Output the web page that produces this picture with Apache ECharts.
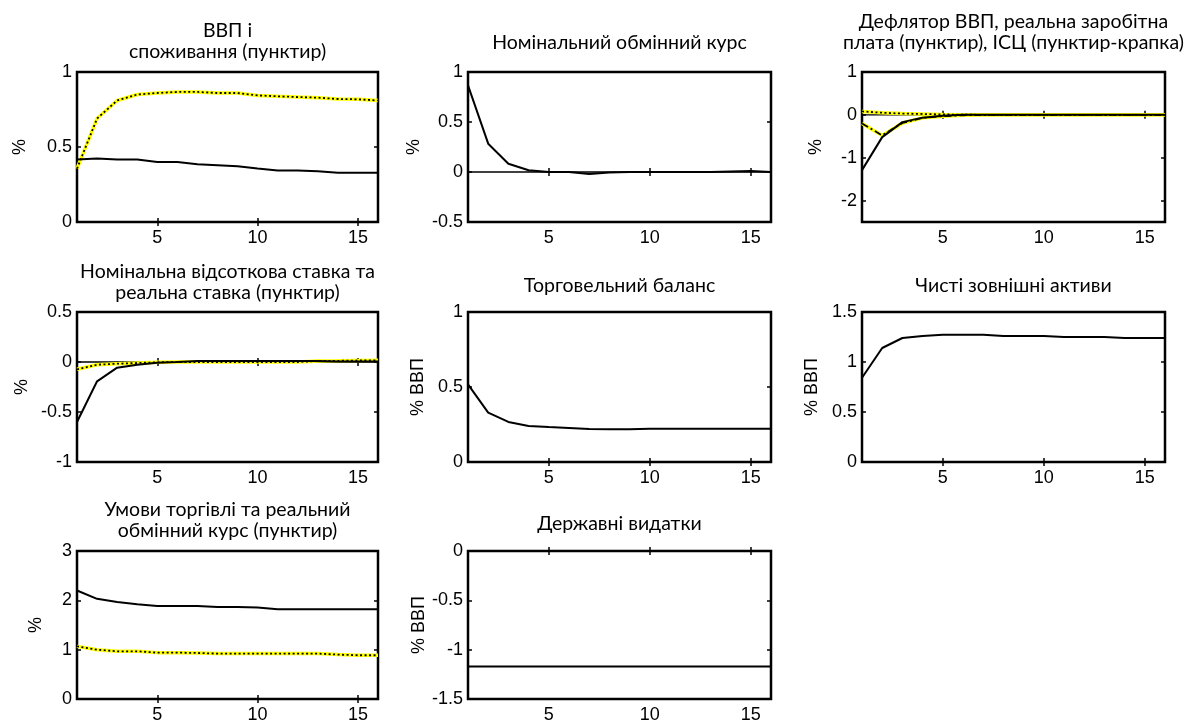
<!DOCTYPE html>
<html>
<head>
<meta charset="utf-8">
<script src="https://cdn.jsdelivr.net/npm/echarts@6/dist/echarts.min.js"></script>
<style>
html, body { margin: 0; padding: 0; background: #fff; }
#chart { width: 1200px; height: 724px; }
</style>
</head>
<body>
<div id="chart"></div>
<script>
// periods after the shock
var periods = [1, 2, 3, 4, 5, 6, 7, 8, 9, 10, 11, 12, 13, 14, 15, 16];
var xTicks = [5, 10, 15];

// ВВП і споживання
var gdp         = [0.416, 0.424, 0.416, 0.416, 0.40, 0.40, 0.385, 0.378, 0.371, 0.356, 0.344, 0.344, 0.338, 0.329, 0.329, 0.329];
var consumption = [0.356, 0.69, 0.81, 0.85, 0.86, 0.867, 0.867, 0.86, 0.86, 0.844, 0.838, 0.833, 0.829, 0.82, 0.818, 0.81];

// Номінальний обмінний курс
var nomExchange = [0.867, 0.283, 0.083, 0.017, 0.0, 0.0, -0.02, -0.005, 0.0, 0.0, 0.0, 0.0, 0.0, 0.005, 0.01, 0.0];

// Дефлятор ВВП, реальна заробітна плата, ІСЦ
var deflator = [-1.29, -0.52, -0.17, -0.065, -0.02, 0.0, 0.0, 0.0, 0.0, 0.0, 0.0, 0.0, 0.0, 0.0, 0.0, 0.0];
var realWage = [0.08, 0.05, 0.03, 0.02, 0.01, 0.005, 0.0, 0.0, 0.0, 0.0, 0.0, 0.0, 0.0, 0.0, 0.0, 0.0];
var cpi      = [-0.2, -0.48, -0.19, -0.07, -0.03, -0.01, 0.0, 0.0, 0.0, 0.0, 0.0, 0.0, 0.0, 0.0, 0.0, 0.0];

// Номінальна та реальна ставка
var nomRate  = [-0.6, -0.193, -0.057, -0.027, -0.007, 0.0, 0.01, 0.01, 0.01, 0.01, 0.01, 0.01, 0.01, 0.005, 0.005, 0.005];
var realRate = [-0.073, -0.027, -0.017, -0.01, -0.003, 0.0, 0.0, 0.0, 0.0, 0.0, 0.0, 0.0, 0.01, 0.012, 0.015, 0.017];

// Торговельний баланс
var tradeBalance = [0.518, 0.329, 0.267, 0.24, 0.233, 0.227, 0.22, 0.218, 0.218, 0.222, 0.222, 0.222, 0.222, 0.222, 0.222, 0.222];

// Чисті зовнішні активи
var netAssets = [0.843, 1.14, 1.24, 1.26, 1.273, 1.273, 1.273, 1.26, 1.26, 1.26, 1.25, 1.25, 1.25, 1.24, 1.24, 1.24];

// Умови торгівлі та реальний обмінний курс
var termsOfTrade = [2.2, 2.03, 1.967, 1.92, 1.887, 1.887, 1.887, 1.867, 1.867, 1.853, 1.82, 1.82, 1.82, 1.82, 1.82, 1.82];
var realExchange = [1.067, 1.0, 0.967, 0.967, 0.94, 0.94, 0.933, 0.92, 0.92, 0.92, 0.92, 0.92, 0.92, 0.9, 0.887, 0.887];

// Державні видатки
var govSpending = [-1.17, -1.17, -1.17, -1.17, -1.17, -1.17, -1.17, -1.17, -1.17, -1.17, -1.17, -1.17, -1.17, -1.17, -1.17, -1.17];

var zeros = [0, 0, 0, 0, 0, 0, 0, 0, 0, 0, 0, 0, 0, 0, 0, 0];

var colLeft = [77, 468, 862];
var colWidth = [301, 303, 303];
var rowTop = [72, 312, 551];
var plotH = 150;

var panels = [
  { title: 'ВВП і\nспоживання (пунктир)', ty: 41, col: 0, row: 0, name: '%', gap: 48,
    min: 0, max: 1, interval: 0.5, lines: [[gdp, 'solid'], [consumption, 'dotted']] },
  { title: 'Номінальний обмінний курс', ty: 43, col: 1, row: 0, name: '%', gap: 45,
    min: -0.5, max: 1, interval: 0.5, lines: [[zeros, 'zero'], [nomExchange, 'solid']] },
  { title: 'Дефлятор ВВП, реальна заробітна\nплата (пунктир), ІСЦ (пунктир-крапка)', ty: 32, col: 2, row: 0, name: '%', gap: 37,
    min: -2.5, max: 1, ticks: [-2, -1, 0, 1], lines: [[zeros, 'zero'], [deflator, 'solid'], [realWage, 'dotted'], [cpi, 'dashdot']] },
  { title: 'Номінальна відсоткова ставка та\nреальна ставка (пунктир)', ty: 282, col: 0, row: 1, name: '%', gap: 46,
    min: -1, max: 0.5, interval: 0.5, lines: [[zeros, 'zero'], [nomRate, 'solid'], [realRate, 'dotted']] },
  { title: 'Торговельний баланс', ty: 286, col: 1, row: 1, name: '% ВВП', gap: 41,
    min: 0, max: 1, interval: 0.5, lines: [[tradeBalance, 'solid']] },
  { title: 'Чисті зовнішні активи', ty: 286, col: 2, row: 1, name: '% ВВП', gap: 41,
    min: 0, max: 1.5, interval: 0.5, lines: [[netAssets, 'solid']] },
  { title: 'Умови торгівлі та реальний\nобмінний курс (пунктир)', ty: 520, col: 0, row: 2, name: '%', gap: 32,
    min: 0, max: 3, interval: 1, lines: [[termsOfTrade, 'solid'], [realExchange, 'dotted']] },
  { title: 'Державні видатки', ty: 524, col: 1, row: 2, name: '% ВВП', gap: 40,
    min: -1.5, max: 0, interval: 0.5, lines: [[govSpending, 'solid']] }
];

var labelFont = "'Liberation Sans', Arial, sans-serif";
var titleFont = "Lato, 'Open Sans', sans-serif";
var labelSize = 18;
var tickStyle = { inside: true, length: 4, lineStyle: { color: '#000', width: 1.5 } };

function pairs(values) {
  return periods.map(function (p, k) { return [p, values[k]]; });
}

var grids = [], xAxes = [], yAxes = [], series = [], graphics = [];

panels.forEach(function (p, i) {
  grids.push({
    left: colLeft[p.col], top: rowTop[p.row], width: colWidth[p.col], height: plotH,
    show: true, borderColor: '#000', borderWidth: 2.5, containLabel: false
  });
  graphics.push({
    type: 'text', x: colLeft[p.col] + colWidth[p.col] / 2, y: p.ty,
    style: { text: p.title, font: '19.5px ' + titleFont, fill: '#000', align: 'center', verticalAlign: 'middle', lineHeight: 21 }
  });

  ['bottom', 'top'].forEach(function (pos) {
    xAxes.push({
      type: 'value', gridIndex: i, position: pos, min: 1, max: 16,
      axisLine: { show: false }, splitLine: { show: false },
      axisTick: Object.assign({ customValues: xTicks }, tickStyle),
      axisLabel: { show: pos === 'bottom', customValues: xTicks, color: '#000', fontSize: labelSize, fontFamily: labelFont, margin: 7 }
    });
  });

  ['left', 'right'].forEach(function (pos) {
    var y = {
      type: 'value', gridIndex: i, position: pos, min: p.min, max: p.max,
      axisLine: { show: false }, splitLine: { show: false },
      axisTick: Object.assign({}, tickStyle),
      axisLabel: { show: pos === 'left', color: '#000', fontSize: labelSize, fontFamily: labelFont, margin: 5 }
    };
    if (p.ticks) {
      y.axisTick.customValues = p.ticks;
      y.axisLabel.customValues = p.ticks;
    } else {
      y.interval = p.interval;
    }
    if (pos === 'left') {
      y.name = p.name;
      y.nameLocation = 'middle';
      y.nameGap = p.gap;
      y.nameTextStyle = { color: '#000', fontSize: labelSize, fontFamily: labelFont };
    }
    yAxes.push(y);
  });

  p.lines.forEach(function (ln) {
    var base = { type: 'line', xAxisIndex: 2 * i, yAxisIndex: 2 * i, data: pairs(ln[0]),
      showSymbol: false, symbol: 'none', silent: true, animation: false };
    if (ln[1] === 'zero') {
      series.push(Object.assign({}, base, { lineStyle: { color: '#000', width: 1.3 }, z: 1 }));
    } else if (ln[1] === 'solid') {
      series.push(Object.assign({}, base, { lineStyle: { color: '#000', width: 2 }, z: 3 }));
    } else {
      series.push(Object.assign({}, base, { lineStyle: { color: '#ffff00', width: 3.5 }, z: 2 }));
      series.push(Object.assign({}, base, { data: pairs(ln[0]), z: 4,
        lineStyle: { color: '#000', width: 1.8, type: ln[1] === 'dotted' ? [2, 2.5] : [7, 3, 2, 3] } }));
    }
  });
});

var chart = echarts.init(document.getElementById('chart'));
chart.setOption({
  animation: false,
  backgroundColor: '#fff',
  grid: grids,
  xAxis: xAxes,
  yAxis: yAxes,
  series: series,
  graphic: graphics
});
</script>
</body>
</html>
